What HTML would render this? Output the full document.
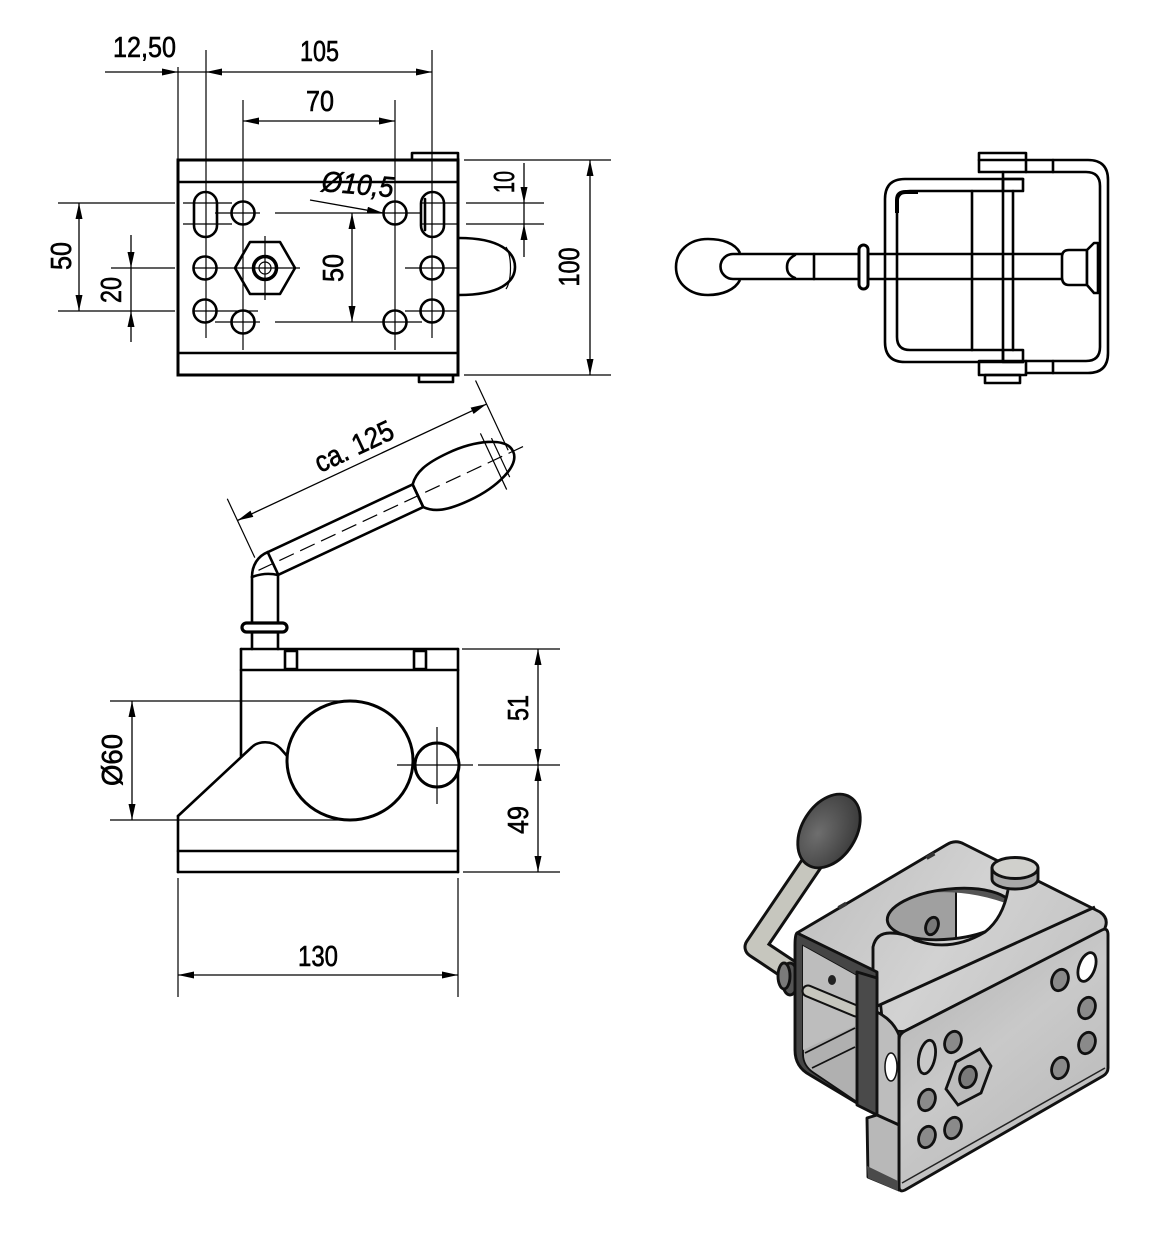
<!DOCTYPE html>
<html><head><meta charset="utf-8"><style>
html,body{margin:0;padding:0;background:#fff}
svg{display:block}
.o{fill:none;stroke:#000;stroke-width:2.6;stroke-linejoin:round;stroke-linecap:round}
.w{fill:#fff;stroke:#000;stroke-width:2.6;stroke-linejoin:round}
.t{fill:none;stroke:#000;stroke-width:1.2}
.d{fill:none;stroke:#000;stroke-width:1.3}
text{font-family:"Liberation Sans",sans-serif;font-size:29px;fill:#000;stroke:#000;stroke-width:0.6}
.i{stroke:#111;stroke-width:2.9;stroke-linejoin:round}
</style></head><body>
<svg width="1167" height="1245" viewBox="0 0 1167 1245" xmlns="http://www.w3.org/2000/svg">
<defs>
<marker id="ar" viewBox="0 0 16 7" refX="16" refY="3.5" markerWidth="16" markerHeight="7" markerUnits="userSpaceOnUse" orient="auto-start-reverse"><path d="M0,0 L16,3.5 L0,7 Z" fill="#000"/></marker>
<linearGradient id="gT" gradientUnits="userSpaceOnUse" x1="800" y1="840" x2="1100" y2="1030"><stop offset="0" stop-color="#bdbdbd"/><stop offset="0.5" stop-color="#d2d2d2"/><stop offset="1" stop-color="#c0c0c0"/></linearGradient>
<linearGradient id="gR" gradientUnits="userSpaceOnUse" x1="900" y1="930" x2="1110" y2="1190"><stop offset="0" stop-color="#b0b0b0"/><stop offset="0.45" stop-color="#c9c9c9"/><stop offset="1" stop-color="#b4b4b4"/></linearGradient>
<radialGradient id="gK" cx="0.4" cy="0.35" r="0.7"><stop offset="0" stop-color="#6e6e6e"/><stop offset="1" stop-color="#3a3a3a"/></radialGradient>
<clipPath id="hc"><ellipse cx="950" cy="914" rx="63" ry="25" transform="rotate(-6 950 914)"/></clipPath>
</defs>
<rect width="1167" height="1245" fill="#fff"/>

<!-- ================= TOP-LEFT VIEW ================= -->
<g>
<line class="t" x1="178" y1="67" x2="178" y2="160"/>
<line class="t" x1="206" y1="50" x2="206" y2="338"/>
<line class="t" x1="432" y1="50" x2="432" y2="338"/>
<line class="t" x1="243" y1="100" x2="243" y2="350"/>
<line class="t" x1="395" y1="100" x2="395" y2="350"/>
<line class="t" x1="215" y1="213" x2="260" y2="213"/>
<line class="t" x1="275" y1="213" x2="422" y2="213"/>
<line class="t" x1="215" y1="322" x2="260" y2="322"/>
<line class="t" x1="275" y1="322" x2="422" y2="322"/>
<line class="t" x1="193" y1="268" x2="300" y2="268"/>
<line class="t" x1="405" y1="268" x2="458" y2="268"/>
<line class="t" x1="193" y1="311" x2="258" y2="311"/>
<line class="t" x1="405" y1="311" x2="458" y2="311"/>
<line class="t" x1="420" y1="203" x2="458" y2="203"/>
<line class="t" x1="420" y1="224" x2="458" y2="224"/>
<line class="t" x1="183" y1="203" x2="232" y2="203"/>
<line class="t" x1="183" y1="224" x2="232" y2="224"/>
<line class="t" x1="58" y1="203" x2="175" y2="203"/>
<line class="t" x1="58" y1="311" x2="175" y2="311"/>
<line class="t" x1="111" y1="268" x2="175" y2="268"/>
<line class="t" x1="466" y1="203" x2="544" y2="203"/>
<line class="t" x1="466" y1="224" x2="544" y2="224"/>
<line class="t" x1="464" y1="160" x2="611" y2="160"/>
<line class="t" x1="464" y1="375" x2="611" y2="375"/>
<line class="d" x1="105" y1="72" x2="178" y2="72" marker-end="url(#ar)"/>
<line class="d" x1="206" y1="72" x2="432" y2="72" marker-start="url(#ar)" marker-end="url(#ar)"/>
<line class="d" x1="178" y1="72" x2="206" y2="72"/>
<line class="d" x1="243" y1="121" x2="395" y2="121" marker-start="url(#ar)" marker-end="url(#ar)"/>
<line class="d" x1="79" y1="203" x2="79" y2="311" marker-start="url(#ar)" marker-end="url(#ar)"/>
<line class="d" x1="131" y1="235" x2="131" y2="268" marker-end="url(#ar)"/>
<line class="d" x1="131" y1="342" x2="131" y2="311" marker-end="url(#ar)"/>
<line class="d" x1="131" y1="268" x2="131" y2="311"/>
<line class="d" x1="352" y1="213" x2="352" y2="322" marker-start="url(#ar)" marker-end="url(#ar)"/>
<line class="d" x1="524" y1="163" x2="524" y2="203" marker-end="url(#ar)"/>
<line class="d" x1="524" y1="257" x2="524" y2="224" marker-end="url(#ar)"/>
<line class="d" x1="524" y1="203" x2="524" y2="224"/>
<line class="d" x1="590" y1="160" x2="590" y2="375" marker-start="url(#ar)" marker-end="url(#ar)"/>
<line class="d" x1="310" y1="200" x2="383" y2="213" marker-end="url(#ar)"/>
<rect x="178" y="160" width="280" height="215" fill="none" stroke="#000" stroke-width="3"/>
<line class="o" x1="178" y1="182" x2="458" y2="182"/>
<line class="o" x1="178" y1="353" x2="458" y2="353"/>
<rect x="412" y="153" width="46" height="7" class="o"/>
<rect x="419" y="375" width="34" height="7" class="o"/>
<rect x="194" y="192" width="23" height="45" rx="11.5" class="o"/>
<rect x="421" y="192" width="23" height="45" rx="11.5" class="o"/>
<line class="o" x1="425" y1="199" x2="425" y2="230"/>
<circle cx="205" cy="268" r="11.5" class="o"/>
<circle cx="205" cy="311" r="11.5" class="o"/>
<circle cx="243" cy="213" r="11.5" class="o"/>
<circle cx="243" cy="322" r="11.5" class="o"/>
<circle cx="395" cy="213" r="11.5" class="o"/>
<circle cx="395" cy="322" r="11.5" class="o"/>
<circle cx="432" cy="268" r="11.5" class="o"/>
<circle cx="432" cy="311" r="11.5" class="o"/>
<polygon points="295,268 280,294 250,294 235,268 250,242 280,242" class="o"/>
<circle cx="265" cy="268" r="11.5" fill="none" stroke="#000" stroke-width="3.5"/>
<circle cx="265" cy="268" r="6" class="t"/>
<line class="t" x1="265" y1="236" x2="265" y2="300"/>
<path class="o" d="M459,238 C500,238 515,252 515,267 C515,282 500,295 459,295"/>
<path class="t" d="M506,247 C512,256 512,280 506,289"/>
<text x="113" y="57" textLength="63" lengthAdjust="spacingAndGlyphs">12,50</text>
<text x="300" y="61" textLength="39" lengthAdjust="spacingAndGlyphs">105</text>
<text x="306" y="111" textLength="28" lengthAdjust="spacingAndGlyphs">70</text>
<text x="0" y="0" textLength="72" lengthAdjust="spacingAndGlyphs" font-style="italic" transform="translate(321,191) rotate(5)">Ø10,5</text>
<text x="0" y="0" text-anchor="middle" textLength="28" lengthAdjust="spacingAndGlyphs" transform="translate(71,256) rotate(-90)">50</text>
<text x="0" y="0" text-anchor="middle" textLength="26" lengthAdjust="spacingAndGlyphs" transform="translate(121,290) rotate(-90)">20</text>
<text x="0" y="0" text-anchor="middle" textLength="28" lengthAdjust="spacingAndGlyphs" transform="translate(343,268) rotate(-90)">50</text>
<text x="0" y="0" text-anchor="middle" textLength="22" lengthAdjust="spacingAndGlyphs" transform="translate(514,182) rotate(-90)">10</text>
<text x="0" y="0" text-anchor="middle" textLength="39" lengthAdjust="spacingAndGlyphs" transform="translate(579,267) rotate(-90)">100</text>
</g>

<!-- ================= TOP-RIGHT VIEW ================= -->
<g>
<path class="w" d="M740,253 C735,243 722,239 708,239 C688,239 676,252 676,267 C676,284 690,295 708,295 C722,295 735,290 740,280"/>
<path class="w" d="M1062,254 L733,254 A12.5,12.5 0 0 0 733,279 L1062,279"/>
<path class="o" d="M795,255 C788,259 787,263 787,267 C787,271 788,275 795,278"/>
<line class="o" x1="814" y1="254" x2="814" y2="279"/>
<rect x="859" y="245" width="9" height="44" rx="4.5" fill="#fff" stroke="#000" stroke-width="3"/>
<path class="o" d="M1023,179 L905,179 Q885,179 885,199 L885,342 Q885,362 905,362 L1023,362"/>
<path class="o" d="M1003,191 L910,191 Q897,191 897,204 L897,337 Q897,350 910,350 L1003,350"/>
<path d="M897,213 L897,200 Q897,192 906,192 L918,192" fill="none" stroke="#000" stroke-width="4"/>
<rect x="1003" y="179" width="20" height="12" class="o"/>
<rect x="1003" y="350" width="20" height="12" class="o"/>
<path class="o" d="M1026,160 L1088,160 Q1108,160 1108,180 L1108,353 Q1108,373 1088,373 L1026,373"/>
<path class="o" d="M1026,172 L1086,172 Q1100,172 1100,186 L1100,347 Q1100,361 1086,361 L1026,361"/>
<line class="o" x1="1053" y1="160" x2="1053" y2="172"/>
<line class="o" x1="1053" y1="361" x2="1053" y2="373"/>
<rect x="979" y="153" width="47" height="19" class="o"/>
<line class="o" x1="979" y1="160" x2="1026" y2="160"/>
<rect x="979" y="361" width="47" height="14" class="o"/>
<rect x="985" y="375" width="35" height="8" class="o"/>
<line class="o" x1="972" y1="191" x2="972" y2="350"/>
<line class="o" x1="1003" y1="172" x2="1003" y2="361"/>
<line class="o" x1="1013" y1="191" x2="1013" y2="350"/>
<path class="w" d="M1087,250 L1069,250 Q1062,250 1062,257 L1062,277 Q1062,285 1069,285 L1087,285 Z"/>
<path class="w" d="M1087,250 L1094,243 L1098,243 L1098,293 L1094,293 L1087,285 Z"/>
</g>

<!-- ================= SIDE VIEW ================= -->
<g>
<line class="o" x1="252" y1="577" x2="252" y2="649"/>
<line class="o" x1="278" y1="575" x2="278" y2="649"/>
<path class="o" d="M252,577 C252,565 258,556 268,552"/>
<path class="o" d="M252,577 Q265,572 278,575"/>
<rect x="242" y="623" width="45" height="9" rx="4.5" fill="#fff" stroke="#000" stroke-width="3.2"/>
<g transform="translate(273,563.5) rotate(-25.06)">
  <line class="o" x1="0" y1="-12.5" x2="160" y2="-12.5"/>
  <line class="o" x1="0" y1="12.5" x2="160" y2="12.5"/>
  <line class="o" x1="0" y1="-12.5" x2="0" y2="12.5"/>
  <path class="o" d="M160,-12.5 C168,-22 180,-26 205,-26 C235,-26 265,-16 265,0 C265,16 235,26 205,26 C180,26 168,22 160,12.5 Z"/>
  <line class="o" x1="160" y1="-12.5" x2="160" y2="12.5"/>
  <line class="t" x1="243" y1="-30" x2="243" y2="32"/>
  <line class="t" x1="251" y1="-21" x2="251" y2="22"/>
  <line class="t" x1="-16" y1="0" x2="278" y2="0" stroke-dasharray="16,7"/>
  <line class="t" x1="-14" y1="-78" x2="-14" y2="-13"/>
  <line class="t" x1="261" y1="-80" x2="261" y2="-3"/>
  <line class="d" x1="-14" y1="-54" x2="261" y2="-54" marker-start="url(#ar)" marker-end="url(#ar)"/>
  <text x="123" y="-62" text-anchor="middle" textLength="84" lengthAdjust="spacingAndGlyphs">ca. 125</text>
</g>
<line class="o" x1="241" y1="649" x2="458" y2="649"/>
<line class="o" x1="241" y1="649" x2="241" y2="756"/>
<line class="o" x1="458" y1="649" x2="458" y2="872"/>
<line class="o" x1="241" y1="670" x2="458" y2="670"/>
<rect x="285" y="651" width="12" height="18" class="o"/>
<rect x="414" y="651" width="12" height="18" class="o"/>
<path class="o" d="M178,816 L252,747 C258,741 272,740 280,748 L288,757"/>
<line class="o" x1="178" y1="816" x2="178" y2="872"/>
<line class="o" x1="178" y1="872" x2="458" y2="872"/>
<line class="o" x1="178" y1="851" x2="458" y2="851"/>
<ellipse cx="350" cy="760.5" rx="63" ry="59.5" fill="#fff" stroke="#000" stroke-width="3"/>
<circle cx="437" cy="765" r="22" fill="#fff" stroke="#000" stroke-width="3"/>
<line class="t" x1="397" y1="765" x2="473" y2="765"/>
<line class="t" x1="437" y1="727" x2="437" y2="804"/>
<line class="t" x1="110" y1="701" x2="347" y2="701"/>
<line class="t" x1="110" y1="820" x2="347" y2="820"/>
<line class="d" x1="132" y1="701" x2="132" y2="820" marker-start="url(#ar)" marker-end="url(#ar)"/>
<line class="t" x1="462" y1="649" x2="560" y2="649"/>
<line class="t" x1="478" y1="765" x2="560" y2="765"/>
<line class="t" x1="463" y1="872" x2="560" y2="872"/>
<line class="d" x1="538" y1="649" x2="538" y2="765" marker-start="url(#ar)" marker-end="url(#ar)"/>
<line class="d" x1="538" y1="765" x2="538" y2="872" marker-start="url(#ar)" marker-end="url(#ar)"/>
<line class="t" x1="178" y1="878" x2="178" y2="997"/>
<line class="t" x1="458" y1="878" x2="458" y2="997"/>
<line class="d" x1="178" y1="975" x2="458" y2="975" marker-start="url(#ar)" marker-end="url(#ar)"/>
<text x="0" y="0" text-anchor="middle" textLength="52" lengthAdjust="spacingAndGlyphs" transform="translate(122,760) rotate(-90)">Ø60</text>
<text x="0" y="0" text-anchor="middle" textLength="26" lengthAdjust="spacingAndGlyphs" transform="translate(528,708) rotate(-90)">51</text>
<text x="0" y="0" text-anchor="middle" textLength="28" lengthAdjust="spacingAndGlyphs" transform="translate(528,820) rotate(-90)">49</text>
<text x="298" y="966" textLength="40" lengthAdjust="spacingAndGlyphs">130</text>
</g>

<!-- ================= ISOMETRIC VIEW ================= -->
<g>
<path d="M814,860 L755,947 L791,971" fill="none" stroke="#111" stroke-width="23" stroke-linecap="round" stroke-linejoin="round"/>
<path d="M814,860 L755,947 L791,971" fill="none" stroke="#c6c6be" stroke-width="17" stroke-linecap="round" stroke-linejoin="round"/>
<ellipse cx="790" cy="979" rx="8" ry="16" fill="#555" class="i"/>
<ellipse cx="784" cy="976" rx="6" ry="13" fill="#7a7a7a" class="i"/>
<ellipse cx="829" cy="831" rx="40" ry="27" transform="rotate(-58 829 831)" fill="url(#gK)" class="i"/>
<!-- top face -->
<path d="M797,933 L946,845 Q955,839 964,844 L1100,912 Q1110,919 1104,930 L905,1031 Q890,1034 882,1018 L877,972 Z" fill="url(#gT)" class="i"/>
<rect x="838" y="904" width="9" height="4" transform="rotate(-30 842 906)" fill="#333"/>
<rect x="926" y="854" width="9" height="4" transform="rotate(-30 930 856)" fill="#333"/>
<ellipse cx="950" cy="914" rx="63" ry="25" transform="rotate(-6 950 914)" fill="#fff"/>
<g clip-path="url(#hc)">
  <rect x="880" y="880" width="76" height="70" fill="#a0a0a0"/>
  <line x1="956" y1="885" x2="956" y2="950" stroke="#111" stroke-width="2"/>
  <path d="M880,900 Q950,875 1020,905" fill="none" stroke="#555" stroke-width="7"/>
</g>
<ellipse cx="950" cy="914" rx="63" ry="25" transform="rotate(-6 950 914)" fill="none" class="i"/>
<ellipse cx="932" cy="926" rx="6" ry="9" transform="rotate(20 932 926)" fill="#777" class="i"/>
<path d="M873,1008 L873,947 Q876,933 890,933 Q905,933 915,940 Q950,953 985,932 Q1003,918 1008,888 L1024,888 L1024,958 L873,1008 Z" fill="url(#gT)"/>
<path d="M873,1008 L873,947 Q876,933 890,933 Q905,933 915,940 Q950,953 985,932 Q1003,918 1008,890" fill="none" class="i"/>
<line x1="873" y1="1008" x2="1095" y2="907" class="i"/>
<path d="M992,868 L992,879 A23,10 0 0 0 1038,879 L1038,868 Z" fill="#a9a9a9" class="i"/>
<ellipse cx="1015" cy="868" rx="23" ry="10.5" fill="#d0d0cc" class="i"/>
<!-- right face -->
<path d="M905,1031 L1102,930 Q1108,927 1108,935 L1108,1068 Q1108,1073 1103,1076 L905,1190 Q899,1193 899,1186 L899,1040 Q899,1034 905,1031 Z" fill="url(#gR)" class="i"/>
<line x1="902" y1="1183" x2="1105" y2="1068" stroke="#222" stroke-width="1.5"/>
<!-- left frame -->
<path d="M797,933 L877,972 L877,1115 L810,1075 Q795,1067 795,1050 L795,945 Q795,934 797,933 Z" fill="#454545" class="i"/>
<path d="M803,946 L857,976 L857,1102 L814,1073 Q803,1066 803,1054 Z" fill="#b0b0b0" stroke="#111" stroke-width="1.8"/>
<path d="M803,946 L857,976 L857,1025 L803,1050 Z" fill="#bdbdbd"/>
<line x1="805" y1="1053" x2="855" y2="1028" stroke="#111" stroke-width="1.8"/>
<line x1="812" y1="1068" x2="855" y2="1047" stroke="#111" stroke-width="1.8"/>
<line x1="808" y1="991" x2="856" y2="1011" stroke="#111" stroke-width="13" stroke-linecap="round"/>
<line x1="808" y1="991" x2="856" y2="1011" stroke="#c6c6be" stroke-width="9" stroke-linecap="round"/>
<ellipse cx="832" cy="980" rx="4" ry="5" fill="#222"/>
<path d="M857,972 L877,978 L877,1115 L857,1105 Z" fill="#4a4a4a" class="i"/>
<path d="M877,1012 Q893,1020 899,1035 L899,1125 L877,1115 Z" fill="#bdbdbd" class="i"/>
<ellipse cx="891" cy="1067" rx="6" ry="14" fill="#fff" stroke="#111" stroke-width="1.5"/>
<path d="M867,1118 L877,1115 L899,1125 L899,1190 L868,1177 Z" fill="#b8b8b8" class="i"/>
<path d="M867,1166 L898,1181 L898,1191 L868,1178 Z" fill="#4a4a4a"/>
<g fill="#8a8a8a" stroke="#111" stroke-width="2.8">
<ellipse cx="1087" cy="967" rx="8" ry="15" transform="rotate(20 1087 967)" fill="#fff"/>
<ellipse cx="1060" cy="980" rx="8" ry="11" transform="rotate(20 1060 980)"/>
<ellipse cx="1087" cy="1008" rx="8" ry="11" transform="rotate(20 1087 1008)"/>
<ellipse cx="1087" cy="1043" rx="8" ry="11" transform="rotate(20 1087 1043)"/>
<ellipse cx="1060" cy="1068" rx="8" ry="11" transform="rotate(20 1060 1068)"/>
<ellipse cx="927" cy="1057" rx="8" ry="17" transform="rotate(12 927 1057)" fill="#c8c8c8"/>
<ellipse cx="953" cy="1042" rx="8" ry="11" transform="rotate(20 953 1042)"/>
<ellipse cx="927" cy="1100" rx="8" ry="11" transform="rotate(20 927 1100)"/>
<ellipse cx="927" cy="1137" rx="8" ry="11" transform="rotate(20 927 1137)"/>
<ellipse cx="953" cy="1128" rx="8" ry="11" transform="rotate(20 953 1128)"/>
<polygon points="946,1089 956,1062 980,1049 991,1066 981,1093 958,1105" fill="#bcbcbc"/>
<ellipse cx="968" cy="1077" rx="8" ry="11" transform="rotate(20 968 1077)" fill="#7a7a7a"/>
</g>
</g>
</svg>
</body></html>
